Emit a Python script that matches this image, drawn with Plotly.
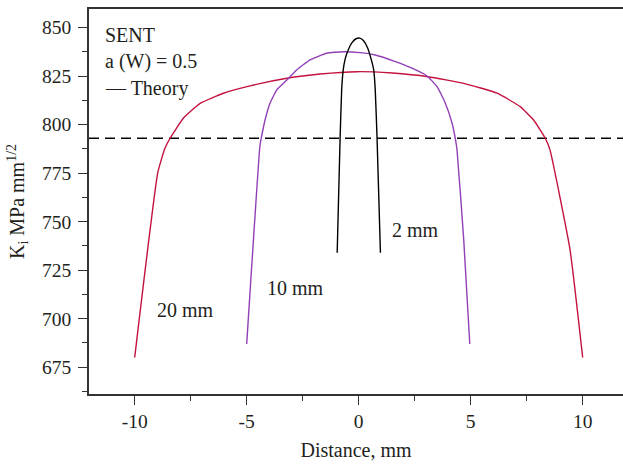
import plotly.graph_objects as go

# 20 mm curve
x20 = [-10.0, -8.97, -8.65, -8.42, -7.83, -7.08, -6.04, -4.85, -3.21, -1.72, -0.07, 1.5, 3.1, 4.69, 6.18, 7.21, 7.81, 8.33, 8.54, 9.43, 10.0]
y20 = [680, 775.3, 787.8, 793, 803.3, 811.0, 816.2, 820.0, 823.9, 826.1, 827.3, 826.6, 824.7, 821.3, 816.2, 809.3, 802.4, 793, 787, 736, 680]

# 10 mm curve
x10 = [-5.0, -4.41, -4.35, -4.18, -3.96, -3.66, -3.21, -2.77, -2.17, -1.43, -0.69, 0.06, 0.74, 1.64, 2.38, 3.05, 3.5, 3.85, 4.17, 4.31, 4.39, 4.69, 4.96]
y10 = [687, 789, 793, 802.4, 811.0, 817.9, 823.0, 828.2, 833.4, 836.8, 837.6, 837.1, 835.9, 832.5, 829.1, 825.1, 819.6, 811.5, 800.7, 793, 787, 740.6, 687]

# 2 mm curve
x2 = [-0.96, -0.83, -0.76, -0.69, -0.6, -0.47, -0.3, -0.1, 0.05, 0.22, 0.4, 0.55, 0.67, 0.74, 0.82, 0.97]
y2 = [734, 793, 817.9, 828.2, 834.0, 838.5, 842.3, 844.4, 844.6, 843.2, 839.5, 834.0, 828.2, 817.9, 793, 734]

theory_y = 793
x_range = [-12.04, 11.8]
y_range = [661.2, 859.6]
x_ticks = [-10, -5, 0, 5, 10]
x_tick_text = ["-10", "-5", "0", "5", "10"]
y_ticks = [675, 700, 725, 750, 775, 800, 825, 850]

FONT = "Liberation Serif"
TXT = "#231f20"
AX = "#333333"
RED = "#c4123e"
PURPLE = "#9140b6"

fig = go.Figure()
fig.add_trace(go.Scatter(x=x_range, y=[theory_y, theory_y], mode="lines",
                         line=dict(color="black", width=1.3, dash="10px,6px"), hoverinfo="skip"))
fig.add_trace(go.Scatter(x=x20, y=y20, mode="lines", line=dict(color=RED, width=1.4, shape="spline", smoothing=0.4)))
fig.add_trace(go.Scatter(x=x10, y=y10, mode="lines", line=dict(color=PURPLE, width=1.4, shape="spline", smoothing=0.4)))
fig.add_trace(go.Scatter(x=x2, y=y2, mode="lines", line=dict(color="black", width=1.4, shape="spline", smoothing=0.4)))

annos = [
    dict(x=-11.43, y=846, text="SENT"),
    dict(x=-11.43, y=832.6, text="a (W) = 0.5"),
    dict(x=-11.43, y=818.8, text="— Theory"),
    dict(x=-9.09, y=704.5, text="20 mm"),
    dict(x=-4.18, y=715.9, text="10 mm"),
    dict(x=1.41, y=745.8, text="2 mm"),
]
for a in annos:
    fig.add_annotation(x=a["x"], y=a["y"], text=a["text"], showarrow=False,
                       xanchor="left", yanchor="middle",
                       font=dict(family=FONT, size=20, color=TXT))

fig.update_layout(
    width=623, height=464,
    margin=dict(l=89, r=0, t=9, b=70),
    paper_bgcolor="white", plot_bgcolor="white",
    showlegend=False,
    font=dict(family=FONT, size=19.5, color=TXT),
)
fig.update_xaxes(range=x_range, tickvals=x_ticks, ticktext=x_tick_text,
                 showgrid=False, zeroline=False, showline=True, linecolor=AX, linewidth=1.5,
                 mirror=True, ticks="outside", ticklen=9, tickwidth=1.2, tickcolor=AX,
                 minor=dict(dtick=2.5, tick0=0, ticks="outside", ticklen=5, tickwidth=1.2, tickcolor=AX),
                 title=dict(text="Distance, mm", font=dict(size=20), standoff=12),
                 tickfont=dict(size=19.5))
fig.update_yaxes(range=y_range, tickvals=y_ticks,
                 showgrid=False, zeroline=False, showline=True, linecolor=AX, linewidth=1.5,
                 ticks="outside", ticklen=9, tickwidth=1.2, tickcolor=AX,
                 ticklabelstandoff=3,
                 minor=dict(dtick=12.5, tick0=0, ticks="outside", ticklen=5, tickwidth=1.2, tickcolor=AX),
                 title=dict(text="K<sub>i</sub> MPa mm<sup>1/2</sup>", font=dict(size=20), standoff=12),
                 tickfont=dict(size=19.5))

fig.write_html("out.html")
